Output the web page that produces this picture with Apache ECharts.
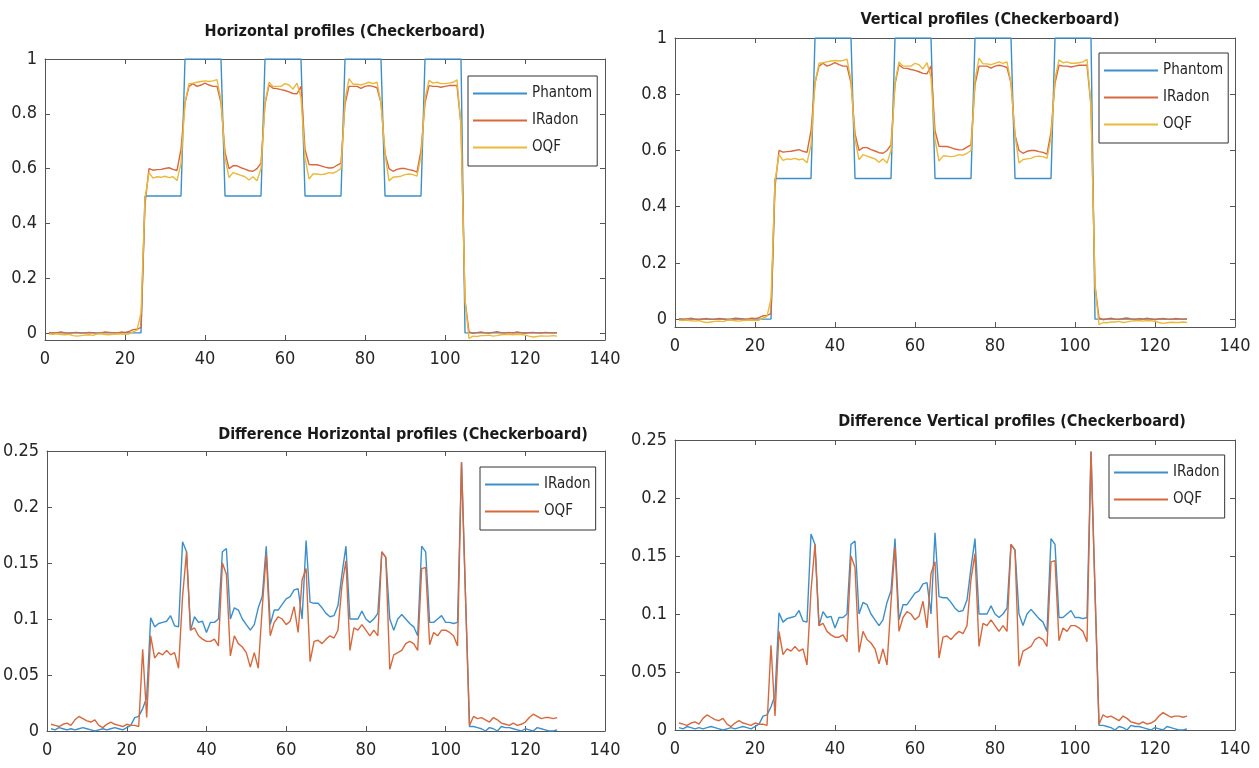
<!DOCTYPE html>
<html>
<head>
<meta charset="utf-8">
<script src="https://cdn.jsdelivr.net/npm/echarts@6/dist/echarts.min.js"></script>
<style>
  html, body { margin: 0; padding: 0; background: #fff; }
  #chart { width: 1259px; height: 768px; }
</style>
</head>
<body>
<div id="chart"></div>
<script>
const chart = echarts.init(document.getElementById("chart"));

// profile values, pixel 1..128
const phantom = [
  0,0,0,0,0,0,0,0,0,0,0,0,0,0,0,0,0,0,0,0,0,0,0,0,
  0.5,0.5,0.5,0.5,0.5,0.5,0.5,0.5,0.5,0.5,
  1,1,1,1,1,1,1,1,1,1,
  0.5,0.5,0.5,0.5,0.5,0.5,0.5,0.5,0.5,0.5,
  1,1,1,1,1,1,1,1,1,1,
  0.5,0.5,0.5,0.5,0.5,0.5,0.5,0.5,0.5,0.5,
  1,1,1,1,1,1,1,1,1,1,
  0.5,0.5,0.5,0.5,0.5,0.5,0.5,0.5,0.5,0.5,
  1,1,1,1,1,1,1,1,1,1,
  0,0,0,0,0,0,0,0,0,0,0,0,0,0,0,0,0,0,0,0,0,0,0,0
];
const iradon = [
  0.002,-0.001,0.001,0.003,0.000,-0.002,0.001,0.002,-0.001,0.000,0.002,0.001,-0.002,0.000,0.003,0.002,0.001,-0.001,0.003,0.002,
  0.005,0.012,0.013,0.02,
  0.47,0.6,0.594,0.596,0.597,0.6,0.603,0.597,0.593,0.67,
  0.84,0.9,0.91,0.9,0.905,0.912,0.905,0.9,0.9,0.84,
  0.66,0.6,0.61,0.61,0.603,0.598,0.592,0.59,0.6,0.62,
  0.835,0.905,0.893,0.892,0.888,0.885,0.88,0.874,0.873,0.9,
  0.67,0.615,0.614,0.614,0.61,0.605,0.602,0.603,0.612,0.62,
  0.835,0.9,0.9,0.9,0.893,0.9,0.903,0.9,0.895,0.84,
  0.655,0.6,0.59,0.597,0.6,0.6,0.596,0.593,0.587,0.665,
  0.84,0.903,0.9,0.9,0.897,0.9,0.903,0.903,0.903,0.76,
  0.12,0.004,
  -0.002,0.001,0.003,0.000,-0.001,0.002,0.004,0.001,-0.001,0.002,0.000,0.003,0.001,-0.002,0.001,0.002,0.000,-0.001,0.002,0.001,0.000,0.001
];
const oqf = [
  -0.004,-0.005,-0.003,-0.006,-0.007,-0.005,-0.01,-0.012,-0.01,-0.008,-0.007,-0.009,-0.004,-0.003,-0.006,-0.007,-0.005,-0.004,-0.003,-0.005,
  -0.004,0.004,0.01,0.073,
  0.49,0.585,0.565,0.57,0.568,0.572,0.567,0.57,0.556,0.62,
  0.84,0.91,0.912,0.915,0.918,0.92,0.918,0.92,0.925,0.85,
  0.64,0.567,0.585,0.58,0.575,0.57,0.558,0.57,0.555,0.6,
  0.84,0.915,0.9,0.9,0.9,0.91,0.905,0.89,0.912,0.86,
  0.64,0.562,0.58,0.58,0.578,0.58,0.585,0.583,0.59,0.6,
  0.85,0.928,0.908,0.908,0.905,0.91,0.915,0.91,0.915,0.84,
  0.655,0.555,0.568,0.57,0.572,0.578,0.58,0.578,0.572,0.645,
  0.855,0.922,0.912,0.915,0.91,0.91,0.912,0.915,0.924,0.76,
  0.12,-0.02,
  -0.012,-0.013,-0.01,-0.01,-0.008,-0.012,-0.01,-0.007,-0.006,-0.005,-0.007,-0.005,-0.006,-0.008,-0.012,-0.015,-0.013,-0.011,-0.012,-0.012,-0.01,-0.012
];
// absolute differences to the phantom
const diffIradon = [
  0.002,0.001,0.003,0.002,0.001,0.002,0.001,0.002,0.003,0.002,0.001,0.000,0.001,0.002,0.001,0.002,0.003,0.002,0.001,0.003,
  0.005,0.012,0.013,0.02,
  0.03,0.101,0.093,0.096,0.097,0.098,0.103,0.094,0.093,0.169,
  0.16,0.09,0.102,0.097,0.098,0.088,0.097,0.097,0.1,0.16,
  0.163,0.1,0.11,0.108,0.1,0.095,0.09,0.095,0.11,0.12,
  0.165,0.095,0.108,0.108,0.113,0.118,0.12,0.126,0.127,0.1,
  0.17,0.115,0.114,0.114,0.11,0.105,0.102,0.103,0.112,0.14,
  0.165,0.1,0.1,0.1,0.107,0.1,0.097,0.1,0.105,0.16,
  0.155,0.1,0.09,0.1,0.104,0.1,0.096,0.093,0.085,0.165,
  0.16,0.097,0.097,0.1,0.103,0.097,0.097,0.096,0.097,0.24,
  0.12,0.004,
  0.004,0.003,0.002,0.000,0.003,0.002,0.000,0.004,0.003,0.003,0.002,0.001,0.000,0.002,0.001,0.000,0.003,0.002,0.001,0.000,0.000,0.001
];
const diffOqf = [
  0.006,0.005,0.004,0.006,0.007,0.005,0.01,0.013,0.011,0.009,0.008,0.01,0.005,0.003,0.006,0.008,0.006,0.005,0.004,0.006,
  0.005,0.005,0.004,0.073,
  0.012,0.085,0.065,0.07,0.068,0.072,0.068,0.07,0.056,0.12,
  0.16,0.09,0.092,0.085,0.082,0.08,0.08,0.082,0.076,0.15,
  0.14,0.067,0.085,0.078,0.075,0.07,0.057,0.07,0.056,0.11,
  0.158,0.085,0.097,0.102,0.1,0.095,0.098,0.111,0.088,0.135,
  0.145,0.062,0.08,0.081,0.078,0.082,0.085,0.083,0.09,0.13,
  0.152,0.072,0.092,0.09,0.095,0.09,0.085,0.09,0.085,0.16,
  0.155,0.055,0.068,0.07,0.072,0.078,0.08,0.078,0.072,0.145,
  0.146,0.077,0.088,0.085,0.09,0.09,0.088,0.085,0.076,0.24,
  0.12,0.005,
  0.013,0.011,0.012,0.01,0.008,0.012,0.01,0.007,0.006,0.005,0.007,0.005,0.006,0.008,0.012,0.015,0.013,0.011,0.012,0.012,0.011,0.012
];
// horizontal and vertical profiles read the same off the figure
const hPhantom = phantom, hIradon = iradon, hOqf = oqf;
const vPhantom = phantom, vIradon = iradon, vOqf = oqf;
const hDiffIradon = diffIradon, hDiffOqf = diffOqf;
const vDiffIradon = diffIradon, vDiffOqf = diffOqf;

const profileTicks = [0, 0.2, 0.4, 0.6, 0.8, 1];
const diffTicks = [0, 0.05, 0.1, 0.15, 0.2, 0.25];
const titles = [
  "Horizontal profiles (Checkerboard)",
  "Vertical profiles (Checkerboard)",
  "Difference Horizontal profiles (Checkerboard)",
  "Difference Vertical profiles (Checkerboard)",
];

const BLUE = "#3d8fca";
const RED = "#d6683e";
const YELLOW = "#ebb93a";
const AXIS = "#555";
const FONT = "'Liberation Sans Narrow', 'DejaVu Sans Condensed', 'Liberation Sans', sans-serif";

const grids = [
  { left: 45, top: 59, width: 560, height: 281 },
  { left: 675, top: 38, width: 560, height: 289 },
  { left: 45, top: 451, width: 560, height: 280 },
  { left: 675, top: 440, width: 560, height: 290 },
];

function pairs(arr) {
  return arr.map((v, i) => [i + 1, v]);
}

const xAxes = [];
const yAxes = [];
grids.forEach((g, gi) => {
  const isProfile = gi < 2;
  const yMin = gi === 0 ? -0.026 : gi === 1 ? -0.028 : 0;
  const yMax = isProfile ? 1 : 0.25;
  const yTicks = isProfile ? profileTicks : diffTicks;
  ["bottom", "top"].forEach((pos) => {
    xAxes.push({
      type: "value",
      gridIndex: gi,
      position: pos,
      min: 0,
      max: 140,
      interval: 20,
      axisLine: { onZero: false, lineStyle: { color: AXIS, width: 1 } },
      axisTick: { inside: true, length: 5, lineStyle: { color: AXIS } },
      axisLabel: {
        show: pos === "bottom",
        color: "#262626",
        fontSize: 18,
        fontFamily: FONT,
        margin: 10,
      },
      splitLine: { show: false },
    });
  });
  ["left", "right"].forEach((pos) => {
    yAxes.push({
      type: "value",
      gridIndex: gi,
      position: pos,
      min: yMin,
      max: yMax,
      axisLine: { show: true, onZero: false, lineStyle: { color: AXIS, width: 1 } },
      axisTick: {
        show: true,
        inside: true,
        length: 5,
        lineStyle: { color: AXIS },
        customValues: yTicks,
      },
      axisLabel: {
        show: pos === "left",
        color: "#262626",
        fontSize: 18,
        fontFamily: FONT,
        margin: 8,
        customValues: yTicks,
      },
      splitLine: { show: false },
    });
  });
});

const legendNames = {
  "Phantom-h": "Phantom", "IRadon-h": "IRadon", "OQF-h": "OQF",
  "Phantom-v": "Phantom", "IRadon-v": "IRadon", "OQF-v": "OQF",
  "IRadon-dh": "IRadon", "OQF-dh": "OQF",
  "IRadon-dv": "IRadon", "OQF-dv": "OQF",
};

function line(name, data, color, gi) {
  return {
    name: name,
    type: "line",
    xAxisIndex: gi * 2,
    yAxisIndex: gi * 2,
    data: pairs(data),
    symbol: "none",
    lineStyle: { color: color, width: 1.4 },
    itemStyle: { color: color },
  };
}

const series = [
  line("Phantom-h", hPhantom, BLUE, 0),
  line("IRadon-h", hIradon, RED, 0),
  line("OQF-h", hOqf, YELLOW, 0),
  line("Phantom-v", vPhantom, BLUE, 1),
  line("IRadon-v", vIradon, RED, 1),
  line("OQF-v", vOqf, YELLOW, 1),
  line("IRadon-dh", hDiffIradon, BLUE, 2),
  line("OQF-dh", hDiffOqf, RED, 2),
  line("IRadon-dv", vDiffIradon, BLUE, 3),
  line("OQF-dv", vDiffOqf, RED, 3),
];

function legend(names, left, top) {
  return {
    data: names,
    orient: "vertical",
    left: left,
    top: top,
    icon: "rect",
    itemWidth: 54,
    itemHeight: 2,
    itemGap: 12,
    padding: [10, 5, 11, 5],
    borderColor: "#333",
    borderWidth: 1,
    backgroundColor: "#fff",
    selectedMode: false,
    formatter: (n) => legendNames[n],
    textStyle: { fontSize: 15, fontFamily: FONT, color: "#262626", lineHeight: 15 },
  };
}

const titleSpots = [
  [345, 24],
  [990, 12],
  [403, 427],
  [1012, 414],
];

const option = {
  animation: false,
  backgroundColor: "#fff",
  title: titles.map((t, i) => ({
    text: t,
    left: titleSpots[i][0],
    top: titleSpots[i][1],
    textAlign: "center",
    padding: 0,
    textStyle: { fontSize: 16, fontWeight: "bold", fontFamily: FONT, color: "#1a1a1a" },
  })),
  grid: grids,
  xAxis: xAxes,
  yAxis: yAxes,
  legend: [
    legend(["Phantom-h", "IRadon-h", "OQF-h"], 468, 76),
    legend(["Phantom-v", "IRadon-v", "OQF-v"], 1099, 53),
    legend(["IRadon-dh", "OQF-dh"], 480, 467),
    legend(["IRadon-dv", "OQF-dv"], 1109, 455),
  ],
  series: series,
};

chart.setOption(option);
</script>
</body>
</html>
